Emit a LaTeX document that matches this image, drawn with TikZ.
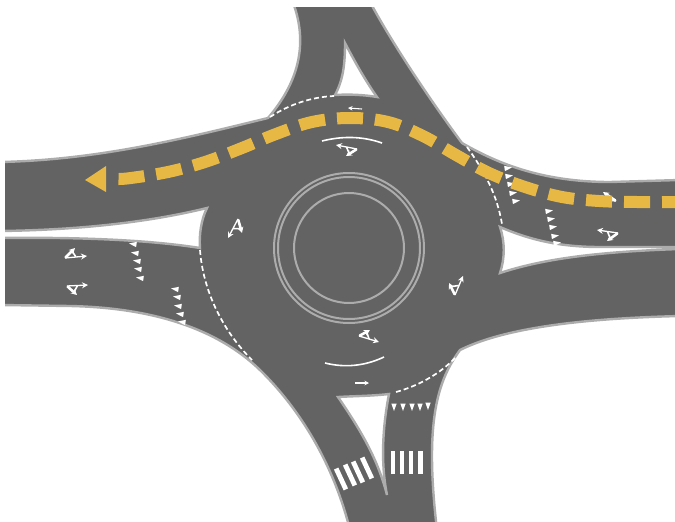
\documentclass[tikz,border=0pt]{standalone}
\usetikzlibrary{arrows.meta, calc}

\definecolor{asphalt}{RGB}{99,99,99}
\definecolor{kerbgrey}{RGB}{172,172,172}
\definecolor{laneyellow}{RGB}{232,184,69}

% tail, straight tip, branch tip
\newcommand{\lanearrow}[3]{
  \draw[lanemark] (#1) -- (#2);
  \draw[lanemark] (#1) -- (#3);
  \draw[lanebar] ($(#1)!0.05!(#3)$) -- ($(#1)!0.8!(#3)$);
  \draw[lanelink] ($(#1)!0.7!(#3)$) -- ($(#1)!0.5!(#2)$);
}

\begin{document}
\begin{tikzpicture}[
    x=1pt, y=-1pt,
    >={Stealth[length=6pt,width=6pt]},
    road/.style={fill=asphalt, draw=kerbgrey, line width=2.4pt, line join=miter},
    island/.style={fill=white, draw=kerbgrey, line width=2.4pt},
    ring/.style={draw=kerbgrey, line width=2pt},
    giveline/.style={draw=white, line width=1.7pt, dash pattern=on 5pt off 3pt},
    arcline/.style={draw=white, line width=1.6pt},
    lanemark/.style={draw=white, line width=1.3pt, ->},
    lanebar/.style={draw=white, line width=2.6pt},
    lanelink/.style={draw=white, line width=1.6pt},
    smallmark/.style={draw=white, line width=1.1pt, -{Stealth[length=4.5pt,width=4.5pt]}},
    centreline/.style={draw=laneyellow, line width=12pt, dash pattern=on 26pt off 12pt, dash phase=8pt},
    yieldmark/.style={fill=white},
    zebra/.style={fill=white}
  ]
    \useasboundingbox (0,0) rectangle (675,522);
    \clip (5,7) rectangle (675,522);

    % carriageway, ends run past the clip so they stay without kerb
    \path[road] (292,0) -- (369,0) .. controls (390,40) and (430,100) .. (462,143)
      .. controls (500,165) and (545,182) .. (610,182) -- (680,180) -- (680,247) -- (600,247)
      .. controls (560,247) and (530,240) .. (500,227)
      .. controls (505,242) and (505,258) .. (500,273)
      .. controls (540,260) and (590,252) .. (680,249) -- (680,316)
      .. controls (600,318) and (510,325) .. (460,350)
      .. controls (438,380) and (424,420) .. (437,530) -- (350,530)
      .. controls (335,470) and (305,415) .. (262,372)
      .. controls (225,335) and (165,308) .. (70,306) -- (0,305) -- (0,238)
      .. controls (80,237) and (150,240) .. (200,248)
      .. controls (199,235) and (201,220) .. (207,208)
      .. controls (150,222) and (80,230) .. (0,231) -- (0,162)
      .. controls (100,160) and (190,137) .. (268,118)
      .. controls (292,90) and (312,50) .. (292,0) -- cycle;

    % splitter islands
    \path[island] (345,43) .. controls (345,65) and (343,80) .. (335,95)
      .. controls (350,94) and (365,95) .. (377,97) .. controls (365,80) and (355,62) .. (345,43) -- cycle;
    \path[island] (338,397) .. controls (355,396) and (372,396) .. (389,394)
      .. controls (382,430) and (381,465) .. (387,495) .. controls (378,460) and (362,432) .. (338,397) -- cycle;

    % central island
    \draw[ring] (349,248) circle (75);
    \draw[ring] (349,248) circle (71);
    \draw[ring] (349,248) circle (55);

    % lane arrows
    \lanearrow{65,258}{87,256}{75,248}
    \lanearrow{67,286}{88,285}{77,295}
    \lanearrow{238,219}{228,238}{242,233}
    \lanearrow{357,149}{336,145}{346,156}
    \lanearrow{455,295}{463,276}{449,283}
    \lanearrow{359,336}{379,342}{370,330}
    \lanearrow{618,233}{597,230}{607,241}
    \lanearrow{616,201}{595,199}{603,192}
    \draw[smallmark] (362,109) -- (348,108);
    \draw[smallmark] (355,383) -- (369,383);

    \draw[arcline] (322,141) .. controls (342,136) and (362,136) .. (382,143);
    \draw[arcline] (325,363) .. controls (345,368) and (365,366) .. (384,357);

    % give way lines
    \draw[giveline] (270,117) .. controls (290,104) and (312,97) .. (334,96);
    \draw[giveline] (467,147) .. controls (485,172) and (497,195) .. (502,224);
    \draw[giveline] (200,250) .. controls (203,290) and (222,330) .. (252,360);
    \draw[giveline] (396,392) .. controls (418,386) and (440,374) .. (456,357);

    \foreach \px/\py in {133/244,135/253,137/261,138/269,140/278,175/289,177/297,178/306,180/314,182/322}
      \fill[yieldmark, shift={(\px,\py)}, rotate=-8] (-4,0) -- (3.5,-2.7) -- (3.5,2.7) -- cycle;
    \foreach \px/\py in {508/168,509/176,511/184,513/193,516/201,549/211,551/219,553/227,555/236,557/243}
      \fill[yieldmark, shift={(\px,\py)}, rotate=8] (4,0) -- (-3.5,-2.7) -- (-3.5,2.7) -- cycle;
    \foreach \px/\py in {394/407,403/407,412/407,420/407,428/406}
      \fill[yieldmark] (\px,\py+4) -- (\px-2.7,\py-3.5) -- (\px+2.7,\py-3.5) -- cycle;

    % crossings
    \foreach \px in {393,402,411,420.5}
      \fill[zebra] (\px-2.3,451) rectangle (\px+2.3,474);
    \foreach \px/\py in {341/479,350/475,358/472,367/468}
      \fill[zebra, shift={(\px,\py)}, rotate=25] (-2.4,-11.5) rectangle (2.4,11.5);

    % yellow route
    \draw[centreline] plot[smooth, tension=0.6] coordinates {(680,202) (637,202) (599,201) (562,197) (525,187) (489,173) (456,155) (423,136) (388,122) (350,118) (312,122) (276,134) (242,148) (205,162) (168,172) (131,178) (118,179)};
    \fill[laneyellow] (85,180) -- (106,166) -- (106,192) -- cycle;
  \end{tikzpicture}
\end{document}
